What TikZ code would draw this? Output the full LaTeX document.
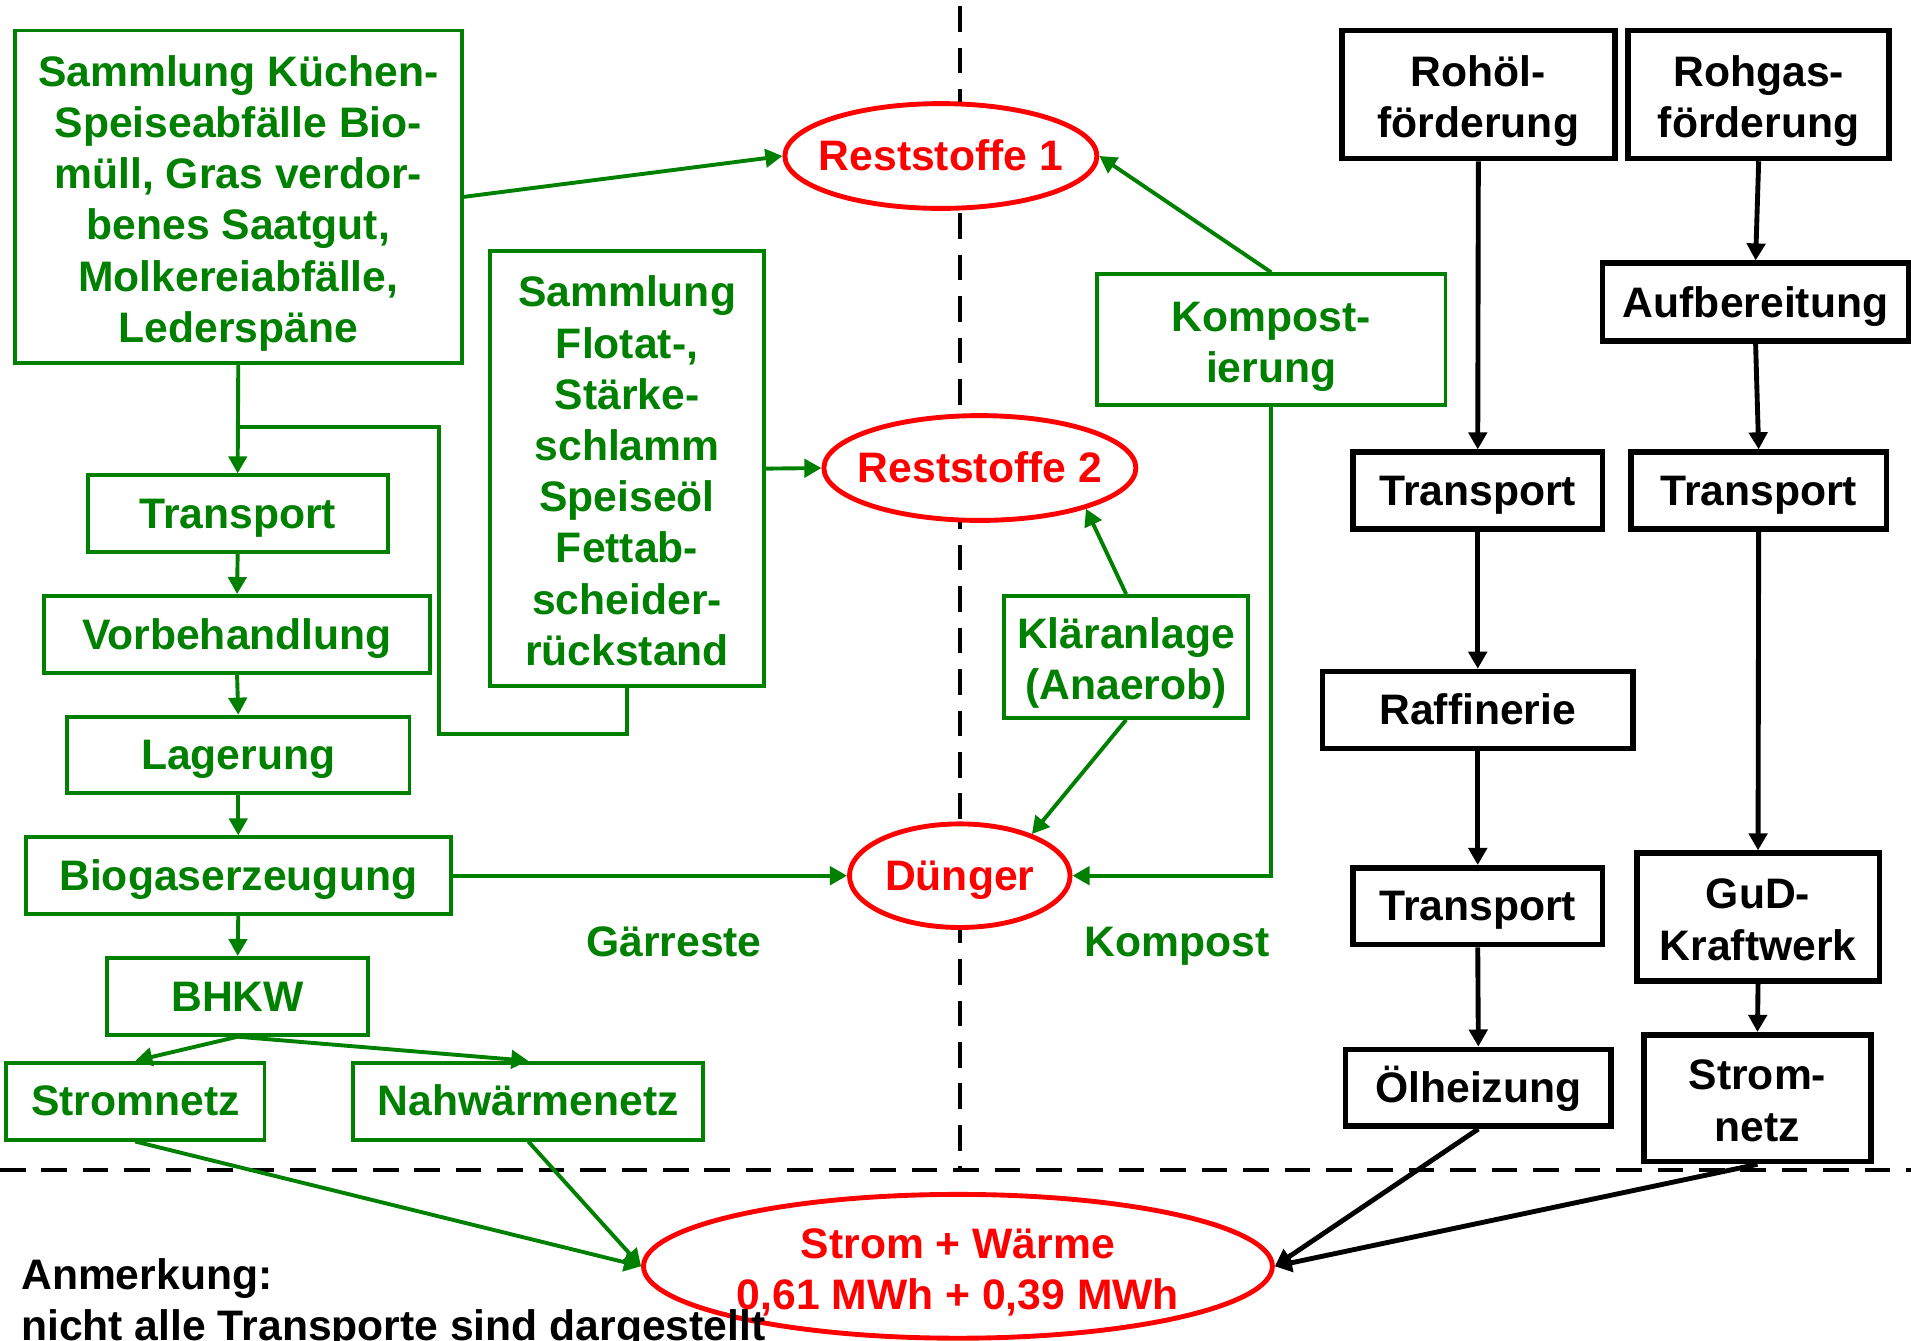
\documentclass[tikz,border=0pt]{standalone}
\usepackage{fontspec}
\setmainfont{Liberation Sans}
\usetikzlibrary{shapes.geometric,arrows.meta}
\definecolor{gg}{RGB}{0,128,0}
\definecolor{rr}{RGB}{255,0,0}
\newcommand\lnstrut{\rule[-3.7pt]{0pt}{19.5pt}}
\newcommand\fl{\rule{0pt}{18pt}}
\begin{document}
\begin{tikzpicture}[x=0.5pt,y=-0.5pt,
 every node/.style={font=\fontsize{17.5}{21}\selectfont\bfseries, inner sep=0pt, align=center,
   execute at begin node=\lnstrut, execute at end node=\lnstrut},
 wh/.style 2 args={minimum width=#1*0.5pt, minimum height=#2*0.5pt},
 gbox/.style={draw=gg, line width=1.6pt, text=gg},
 bbox/.style={draw=black, line width=2.3pt, text=black},
 rell/.style={ellipse, draw=rr, line width=2pt, fill=white, text=rr},
 glabel/.style={text=gg},
 garr/.style={draw=gg, line width=1.6pt, -{Triangle[length=7pt,width=7.5pt]}},
 gline/.style={draw=gg, line width=1.6pt},
 barr/.style={draw=black, line width=2pt, -{Triangle[length=7pt,width=7.5pt]}},
 sepline/.style={draw=black, line width=2pt, dash pattern=on 10.5pt off 6.5pt},
]
\useasboundingbox (0,0) rectangle (1568,1100);
\clip (0,0) rectangle (1568,1100);

% separators
\coordinate (vt) at (788,5);
\coordinate (vb) at (788,958);
\coordinate (hl) at (0,960);
\coordinate (hr) at (1568,960);
\draw[sepline, line width=1.6pt] (vt) -- (vb);
\draw[sepline] (hl) -- (hr);

% green boxes
\node[gbox, wh={367}{273}] (S1) at (195.5,161.5) {\fl Sammlung Küchen-\\Speiseabfälle Bio-\\müll, Gras verdor-\\benes Saatgut,\\Molkereiabfälle,\\Lederspäne};
\node[gbox, wh={225}{357}] (S2) at (514.5,384.5) {\fl Sammlung\\Flotat-,\\Stärke-\\schlamm\\Speiseöl\\Fettab-\\scheider-\\rückstand};
\node[gbox, wh={246}{63}] (T1) at (195,421.5) {Transport};
\node[gbox, wh={317}{63}] (VB) at (194.5,520.5) {Vorbehandlung};
\node[gbox, wh={281}{63}] (LG) at (195.5,619.5) {Lagerung};
\node[gbox, wh={349}{63}] (BG) at (195.5,718.5) {Biogaserzeugung};
\node[gbox, wh={214}{63}] (BH) at (195,817.5) {BHKW};
\node[gbox, wh={212}{63}] (SN) at (111,903.5) {Stromnetz};
\node[gbox, wh={287}{63}] (NW) at (433.5,903.5) {Nahwärmenetz};
\node[gbox, wh={286}{107}] (KP) at (1043,278.5) {\fl Kompost-\\ierung};
\node[gbox, wh={200}{100}] (KL) at (924,539) {\fl Kläranlage\\(Anaerob)};

% labels
\node[glabel] (GR) at (553,773) {Gärreste};
\node[glabel] (KO) at (966,773) {Kompost};

% red ellipses
\node[rell, wh={256}{86}, inner xsep=-5pt] (R1) at (772,128) {Reststoffe 1};
\node[rell, wh={256}{86}, inner xsep=-5pt] (R2) at (804,384) {Reststoffe 2};
\node[rell, wh={181}{85}] (DU) at (787.5,718.5) {Dünger};
\node[rell, wh={516}{118}, inner ysep=-8pt] (SW) at (786,1039) {\fl Strom + Wärme\\0,61 MWh + 0,39 MWh};

% black boxes
\node[bbox, wh={224}{105}] (RO) at (1213,77.5) {\fl Rohöl-\\förderung};
\node[bbox, wh={214}{105}] (RG) at (1443,77.5) {\fl Rohgas-\\förderung};
\node[bbox, wh={251}{64}] (AB) at (1440.5,248) {Aufbereitung};
\node[bbox, wh={205}{63}] (TO1) at (1212.5,402.5) {Transport};
\node[bbox, wh={210}{63}] (TG) at (1443,402.5) {Transport};
\node[bbox, wh={255}{63}] (RF) at (1212.5,582.5) {Raffinerie};
\node[bbox, wh={205}{63}] (TO2) at (1212.5,743.5) {Transport};
\node[bbox, wh={199}{105}] (GD) at (1442.5,752.5) {\fl GuD-\\Kraftwerk};
\node[bbox, wh={218}{63}] (OH) at (1213,892.5) {Ölheizung};
\node[bbox, wh={186}{104}] (SB) at (1442,901) {\fl Strom-\\netz};

% note
\node[anchor=base west] (AN1) at (17,1058) {Anmerkung:};
\node[anchor=base west] (AN2) at (17,1100) {nicht alle Transporte sind dargestellt};

% green connectors
\coordinate (jn) at (195,350);
\coordinate (k1) at (360,602);
\draw[garr] (S1.east) -- (R1.west);
\draw[garr] (S1.south) -- (T1.north);
\draw[gline] (S2.south) |- (k1) |- (jn);
\draw[garr] (S2.east) -- (R2.west);
\draw[garr] (T1.south) -- (VB.north);
\draw[garr] (VB.south) -- (LG.north);
\draw[garr] (LG.south) -- (BG.north);
\draw[garr] (BG.south) -- (BH.north);
\draw[garr] (BH.south) -- (SN.north);
\draw[garr] (BH.south) -- (NW.north);
\draw[garr] (BG.east) -- (DU.west);
\draw[garr] (KP.north) -- (R1.east);
\draw[garr] (KP.south) |- (DU.east);
\draw[garr] (KL.north) -- (R2.-21);
\draw[garr] (KL.south) -- (DU.30);
\draw[garr] (SN.south) -- (SW.west);
\draw[garr] (NW.south) -- (SW.west);

% black connectors
\draw[barr] (RO.south) -- (TO1.north);
\draw[barr] (TO1.south) -- (RF.north);
\draw[barr] (RF.south) -- (TO2.north);
\draw[barr] (TO2.south) -- (OH.north);
\draw[barr] (RG.south) -- (AB.north);
\draw[barr] (AB.south) -- (TG.north);
\draw[barr] (TG.south) -- (GD.north);
\draw[barr] (GD.south) -- (SB.north);
\draw[barr] (OH.south) -- (SW.east);
\draw[barr] (SB.south) -- (SW.east);
\end{tikzpicture}
\end{document}
